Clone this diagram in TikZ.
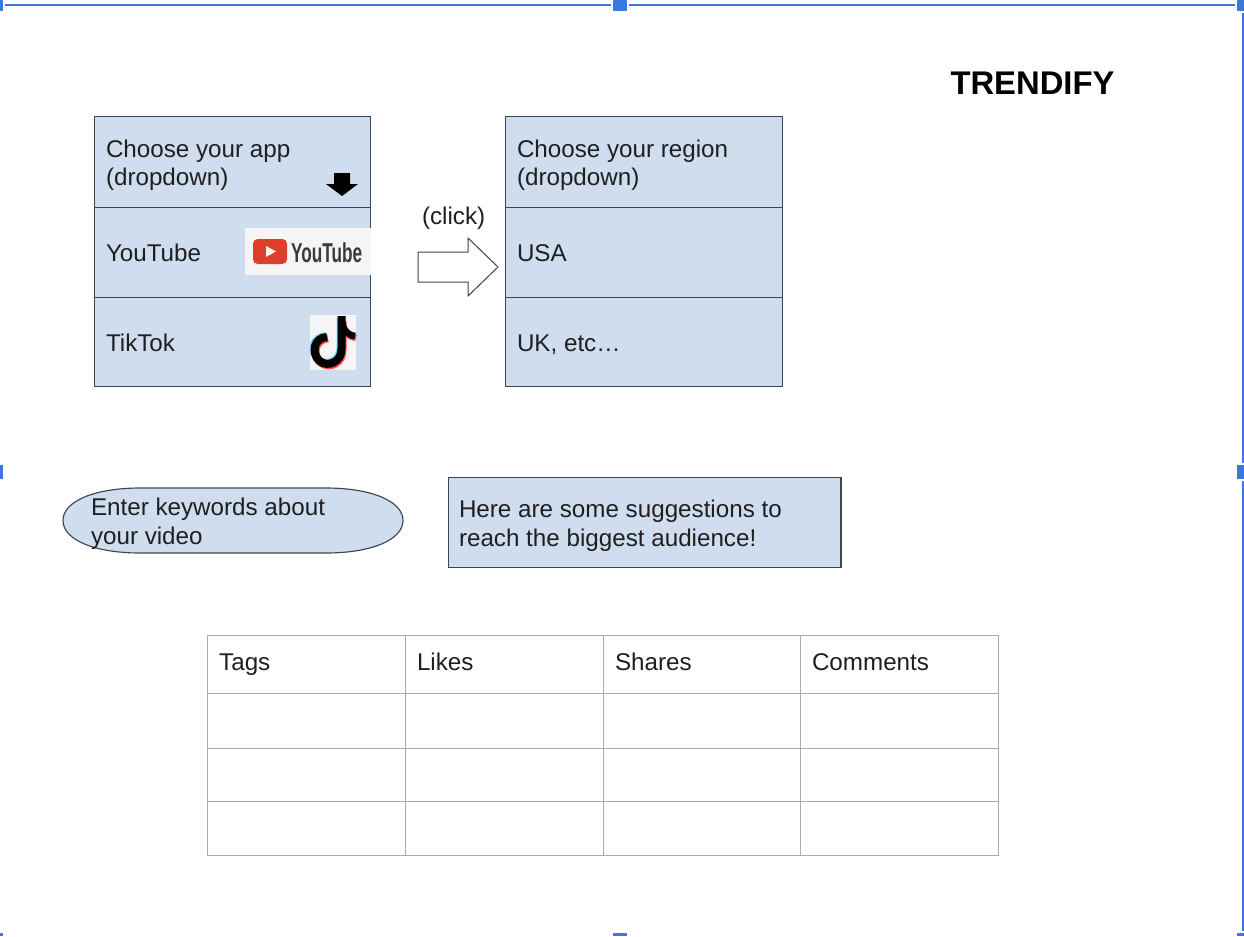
\documentclass[tikz,border=0pt]{standalone}
\usepackage{fontspec}
\setmainfont{Liberation Sans}
\definecolor{boxfill}{HTML}{CFDDEF}
\definecolor{boxline}{HTML}{3A4552}
\definecolor{handle}{HTML}{3C78E0}
\definecolor{gridline}{HTML}{ABABAB}
\definecolor{txt}{HTML}{1F1F1F}
\definecolor{ytred}{HTML}{DE3E2C}
\definecolor{ytgrey}{HTML}{3A3A3A}
\tikzset{
  x=0.75pt,y=-0.75pt,
  cellbox/.style={draw=boxline,fill=boxfill,line width=0.85pt},
  label/.style={anchor=base west,inner sep=0pt,outer sep=0pt,font=\fontsize{18.15}{21}\selectfont,text=txt},
  gridrule/.style={draw=gridline,line width=0.75pt},
  sel/.style={draw=handle,line width=1.5pt},
  grip/.style={fill=handle,draw=none},
}
\begin{document}
\begin{tikzpicture}
\useasboundingbox (0,0) rectangle (1244,936);
% selection frame
\coordinate (tl) at (5,5); \coordinate (tm1) at (611,5); \coordinate (tm2) at (629,5); \coordinate (tr) at (1235,5);
\coordinate (r0) at (1243,13); \coordinate (r1) at (1243,463); \coordinate (r2) at (1243,481); \coordinate (br) at (1243,931);
\draw[sel] (tl)--(tm1); \draw[sel] (tm2)--(tr); \draw[sel] (r0)--(r1); \draw[sel] (r2)--(br);
\fill[grip] (0,0) rectangle (3,11);
\fill[grip] (613,0) rectangle (627,11);
\fill[grip] (1237,0) rectangle (1244,11);
\fill[grip] (1237,465) rectangle (1244,479);
\fill[grip] (0,465) rectangle (3,479);
\fill[grip] (0,933) rectangle (3,936);
\fill[grip] (613,933) rectangle (627,936);
\fill[grip] (1237,933) rectangle (1244,936);
% title
\node[label,font=\bfseries\fontsize{24.6}{28}\selectfont,text=black] (title) at (950.5,94) {TRENDIFY};
% left list
\path[cellbox] (94.2,116.2) rectangle (370.2,207.2);
\path[cellbox] (94.2,207.2) rectangle (370.2,297.2);
\path[cellbox] (94.2,297.2) rectangle (370.2,386.2);
\node[label] (t1) at (106,157) {Choose your app};
\node[label] (t2) at (106,185) {(dropdown)};
\node[label] (t3) at (106,261) {YouTube};
\node[label] (t4) at (106,351) {TikTok};
% down arrow
\fill[black] (334,173) -- (350,173) -- (350,184) -- (358,184) -- (342,196) -- (326,184) -- (334,184) -- cycle;
% YouTube logo
\fill[white!96!black] (245,228) rectangle (371,275);
\fill[ytred,rounded corners=3.5pt] (253,239) rectangle (287,264);
\fill[white!93!ytred] (266,246) -- (276,251.5) -- (266,257) -- cycle;
\node[anchor=base west,inner sep=0pt,font=\bfseries\fontsize{20.5}{24}\selectfont,text=ytgrey,xscale=0.63] (ytlogo) at (291,262) {YouTube};
% TikTok logo
\fill[white!96!black] (310,315) rectangle (356,370);
\begin{scope}[line cap=butt]
\draw[cyan!55!white,line width=6pt] (326,336) .. controls (313,336.5) and (310,351.5) .. (318,359.5) .. controls (327,367.5) and (341,360.5) .. (340.5,347.5) -- (340.5,318);
\draw[red!60!pink,line width=6pt] (328,338.5) .. controls (315,339) and (312,354) .. (320,362) .. controls (329,370) and (343,363) .. (342.5,350) -- (342.5,321);
\draw[red!60!pink,line width=5pt] (343,324) .. controls (344,332) and (349,337) .. (356,338);
\draw[black,line width=6pt] (327,337) .. controls (314,337.5) and (311,352.5) .. (319,360.5) .. controls (328,368.5) and (342,361.5) .. (341.5,348.5) -- (341.5,316);
\draw[black,line width=5pt] (341.5,320) .. controls (343,330) and (347,335) .. (355,336);
\end{scope}
% arrow
\coordinate (arrowlabel) at (422,224);
\node[label] (click) at (arrowlabel) {(click)};
\draw[draw=boxline,fill=white,line width=0.75pt,line join=miter] (418,252) -- (468,252) -- (468,238) -- (498,267) -- (468,296) -- (468,282) -- (418,282) -- cycle;
% right list
\path[cellbox] (505.2,116.2) rectangle (782.2,207.2);
\path[cellbox] (505.2,207.2) rectangle (782.2,297.2);
\path[cellbox] (505.2,297.2) rectangle (782.2,386.2);
\node[label] (r1t) at (517,157) {Choose your region};
\node[label] (r2t) at (517,185) {(dropdown)};
\node[label] (r3t) at (517,261) {USA};
\node[label] (r4t) at (517,351) {UK, etc…};
% ellipse
\path[cellbox] (63,520.5) .. controls (63,501) and (95,488) .. (140,488) -- (326,488) .. controls (371,488) and (403,501) .. (403,520.5) .. controls (403,540) and (371,553) .. (326,553) -- (140,553) .. controls (95,553) and (63,540) .. cycle;
\node[label] (e1) at (91,515) {Enter keywords about};
\node[label] (e2) at (91,544) {your video};
% suggestions
\path[cellbox] (448.2,477.2) rectangle (841,567.2);
\node[label] (s1) at (459,517) {Here are some suggestions to};
\node[label] (s2) at (459,546) {reach the biggest audience!};
% table
\foreach \yy in {635.5,693.5,748.5,801.5,855.5} \draw[gridrule] (207.5,\yy) -- (998.5,\yy);
\foreach \xx in {207.5,405.5,603.5,800.5,998.5} \draw[gridrule] (\xx,635) -- (\xx,856);
\node[label] (h1) at (219.2,670) {Tags};
\node[label] (h2) at (417,670) {Likes};
\node[label] (h3) at (615,670) {Shares};
\node[label] (h4) at (812,670) {Comments};
\end{tikzpicture}
\end{document}
